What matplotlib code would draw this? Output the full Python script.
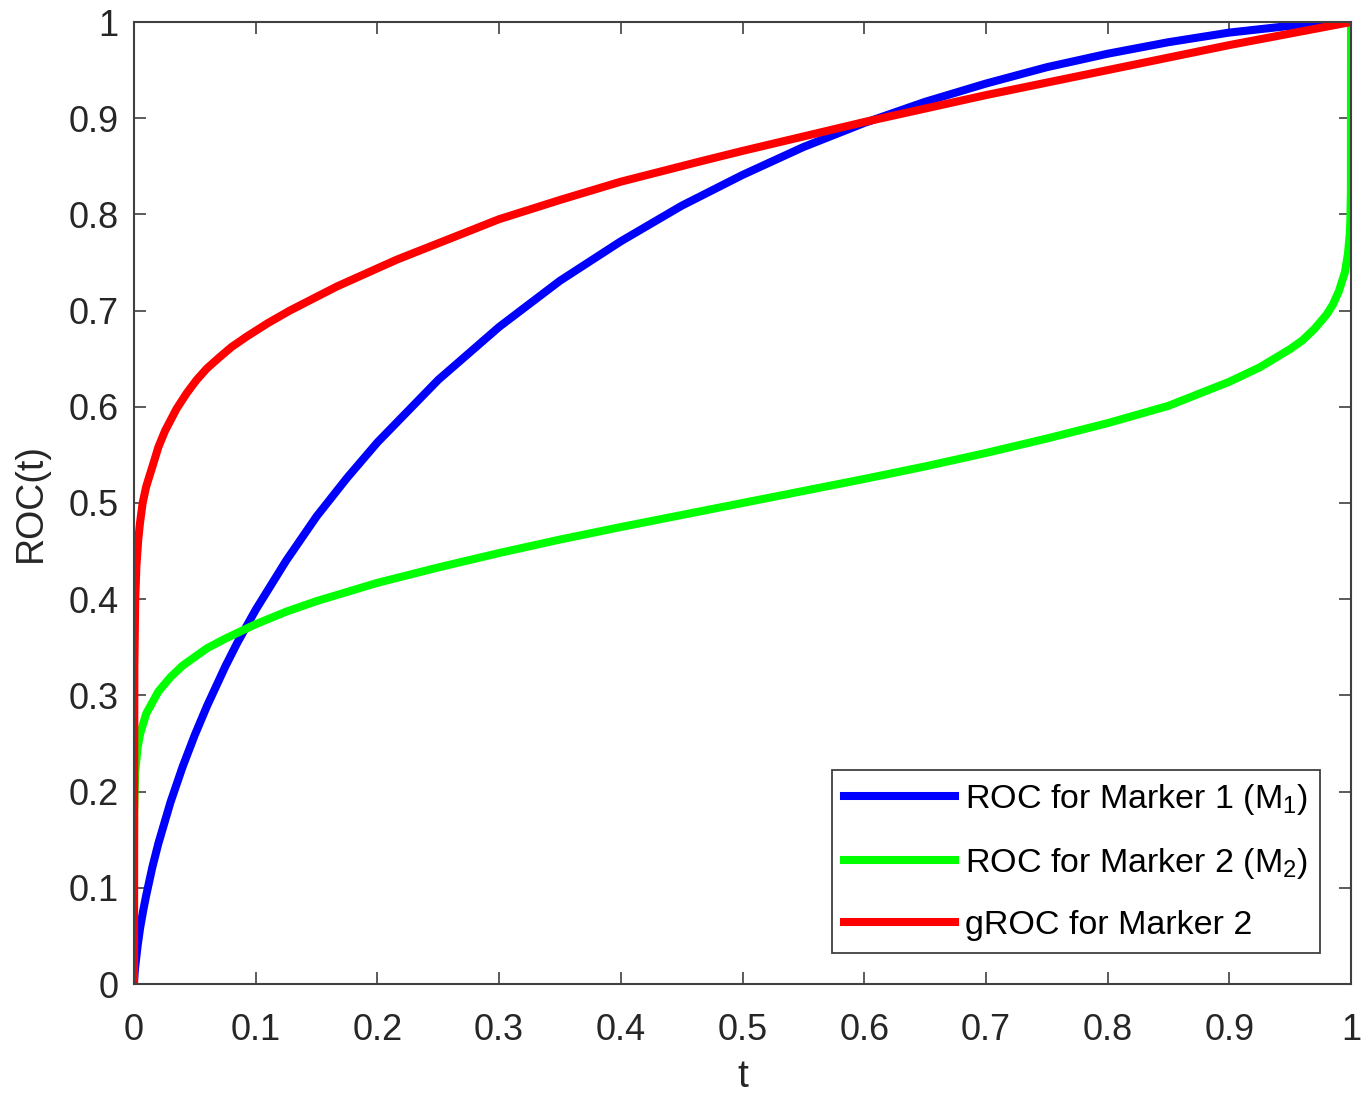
import matplotlib
matplotlib.use("Agg")
import matplotlib.pyplot as plt

plt.rcParams['font.family'] = ['Liberation Sans', 'DejaVu Sans']
plt.rcParams['mathtext.fontset'] = 'custom'
plt.rcParams['mathtext.rm'] = 'Liberation Sans'
plt.rcParams['mathtext.it'] = 'Liberation Sans'

# ---- data ----
t_m1 = [0, 0.0001, 0.0005, 0.001, 0.003, 0.005, 0.0075, 0.01, 0.015, 0.02, 0.03, 0.04,
        0.05, 0.06, 0.075, 0.085, 0.1, 0.125, 0.15, 0.175, 0.2, 0.25, 0.3, 0.35, 0.4,
        0.45, 0.5, 0.55, 0.6, 0.65, 0.7, 0.75, 0.8, 0.85, 0.9, 0.95, 1.0]
roc_m1 = [0, 0.003, 0.011, 0.018, 0.040, 0.058, 0.076, 0.092, 0.121, 0.146, 0.189, 0.226,
          0.259, 0.289, 0.330, 0.355, 0.389, 0.440, 0.486, 0.526, 0.563, 0.628, 0.683,
          0.731, 0.772, 0.809, 0.841, 0.870, 0.895, 0.917, 0.936, 0.953, 0.967, 0.979,
          0.989, 0.996, 1.0]

t_m2 = [0, 0.000001, 0.00001, 0.0001, 0.001, 0.003, 0.005, 0.01, 0.02, 0.03, 0.04, 0.05,
        0.06, 0.075, 0.1, 0.125, 0.15, 0.2, 0.25, 0.3, 0.35, 0.4, 0.45, 0.5, 0.55, 0.6,
        0.65, 0.7, 0.75, 0.8, 0.85, 0.9, 0.925, 0.95, 0.96, 0.97, 0.98, 0.985, 0.99,
        0.995, 0.9975, 0.999, 0.9995, 0.9999, 1.0]
roc_m2 = [0, 0.117, 0.143, 0.176, 0.220, 0.246, 0.260, 0.281, 0.304, 0.319, 0.331, 0.340,
          0.349, 0.359, 0.374, 0.387, 0.398, 0.417, 0.433, 0.448, 0.462, 0.475, 0.4875,
          0.500, 0.5125, 0.525, 0.538, 0.552, 0.567, 0.583, 0.601, 0.626, 0.641, 0.660,
          0.669, 0.681, 0.696, 0.706, 0.720, 0.740, 0.759, 0.780, 0.795, 0.824, 1.0]

t_g2 = [0, 0.0003, 0.001, 0.002, 0.0035, 0.0049, 0.0071, 0.01, 0.0159, 0.02, 0.0255,
        0.035, 0.0435, 0.0515, 0.06, 0.0707, 0.08, 0.0926, 0.11, 0.128, 0.1666, 0.216,
        0.25, 0.3, 0.35, 0.4, 0.465, 0.5, 0.55, 0.6, 0.65, 0.7, 0.75, 0.8, 0.85, 0.9,
        0.95, 1.0]
groc_m2 = [0, 0.33, 0.40, 0.435, 0.462, 0.479, 0.500, 0.517, 0.541, 0.558, 0.575, 0.598,
           0.6145, 0.628, 0.640, 0.652, 0.662, 0.673, 0.687, 0.700, 0.725, 0.753, 0.770,
           0.795, 0.815, 0.834, 0.855, 0.866, 0.881, 0.896, 0.910, 0.924, 0.937, 0.950,
           0.963, 0.976, 0.988, 1.0]

labels = ['ROC for Marker 1 (M$_{1}$)', 'ROC for Marker 2 (M$_{2}$)', 'gROC for Marker 2']
xticks = [0, 0.1, 0.2, 0.3, 0.4, 0.5, 0.6, 0.7, 0.8, 0.9, 1]
xticklabels = ['0', '0.1', '0.2', '0.3', '0.4', '0.5', '0.6', '0.7', '0.8', '0.9', '1']
yticks = xticks
yticklabels = xticklabels

axcol = '#404040'
txtcol = '#262626'
fig = plt.figure(figsize=(13.69, 10.98), dpi=100)
ax = fig.add_axes([134/1369, 1 - 984/1098, (1351-134)/1369, (984-22)/1098])

lw = 5.8
ax.plot(t_m1, roc_m1, color=(0, 0, 1), lw=lw, label=labels[0], solid_joinstyle='round')
ax.plot(t_m2, roc_m2, color=(0, 1, 0), lw=lw, label=labels[1], solid_joinstyle='round')
ax.plot(t_g2, groc_m2, color=(1, 0, 0), lw=lw, label=labels[2], solid_joinstyle='round')

ax.set_xlim(0, 1)
ax.set_ylim(0, 1)
ax.set_xticks(xticks)
ax.set_xticklabels(xticklabels)
ax.set_yticks(yticks)
ax.set_yticklabels(yticklabels)
ax.tick_params(direction='in', length=8.5, width=1.2, colors=axcol, labelsize=26,
               top=True, right=True, labelcolor=txtcol)
ax.tick_params(axis='x', pad=21)
ax.tick_params(axis='y', pad=11)
for s in ax.spines.values():
    s.set_color(axcol)
    s.set_linewidth(1.5)

ax.set_xlabel('t', fontsize=28, color=txtcol, labelpad=8)
ax.set_ylabel('ROC(t)', fontsize=27, color=txtcol, labelpad=14)

leg = ax.legend(loc='lower right', bbox_to_anchor=(1 - 31/1217, 31/962), borderaxespad=0,
                fontsize=24.5, handlelength=3.26, handletextpad=0.3, labelspacing=0.85,
                fancybox=False, framealpha=1, borderpad=0.35)
leg.get_frame().set_edgecolor(axcol)
leg.get_frame().set_linewidth(1.3)
for line in leg.get_lines():
    line.set_linewidth(5.8)

fig.savefig('out.png', dpi=100)
